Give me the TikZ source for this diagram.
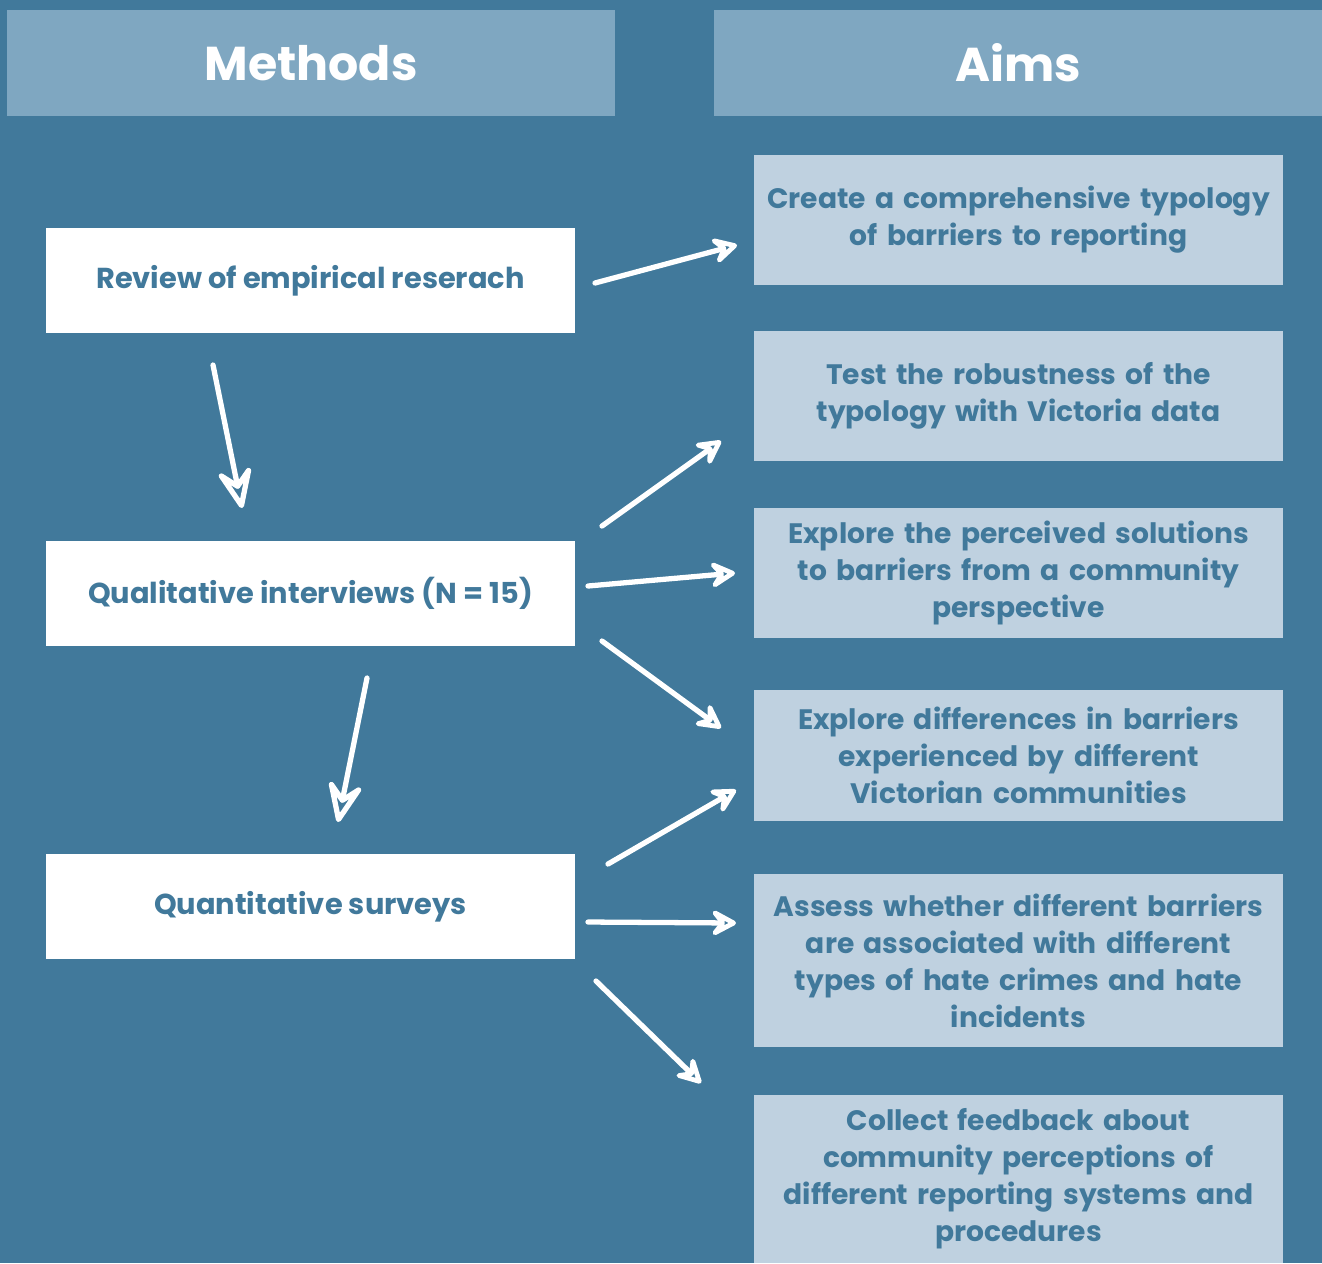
\documentclass[tikz,border=0pt]{standalone}
\usepackage{fontspec}
\setmainfont{Poppins}
\usetikzlibrary{arrows.meta}
\definecolor{bgblue}{RGB}{65,121,155}
\definecolor{headblue}{RGB}{127,167,193}
\definecolor{aimblue}{RGB}{191,209,224}
\tikzset{
  headbox/.style={fill=headblue, text=white, minimum width=6.08cm, minimum height=1.06cm,
    font=\fontsize{13.5}{16}\selectfont\bfseries},
  methodbox/.style={fill=white, text=bgblue, minimum width=5.29cm, minimum height=1.05cm,
    font=\fontsize{8.2}{10.5}\selectfont\bfseries},
  aimbox/.style={fill=aimblue, text=bgblue, inner xsep=0pt, minimum width=5.29cm, text width=5.29cm, align=center,
    font=\fontsize{8}{10.5}\selectfont\bfseries},
  sketch/.style={draw=white, line width=1.5pt, line cap=round,
    -{Stealth[open, round, length=0.32cm, width=0.34cm, inset=0.13cm]}},
  sketchdown/.style={sketch, -{Stealth[open, round, length=0.5cm, width=0.42cm, inset=0.2cm]}}
}
\begin{document}
\begin{tikzpicture}[x=0.01cm, y=-0.01cm]
\fill[bgblue] (0,0) rectangle (1322,1263);
\useasboundingbox (0,0) rectangle (1322,1263);

\node[headbox] (methods) at (311,63) {Methods};
\node[headbox] (aims) at (1018,63) {Aims};

\node[methodbox] (review) at (310.5,280.5) {Review of empirical reserach};
\node[methodbox] (interviews) at (310.5,593.5) {Qualitative interviews (N = 15)};
\node[methodbox] (surveys) at (310.5,906.5) {Quantitative surveys};

\node[aimbox, minimum height=1.30cm] (aim1) at (1018.5,220) {Create a comprehensive typology\\of barriers to reporting};
\node[aimbox, minimum height=1.30cm] (aim2) at (1018.5,396) {Test the robustness of the\\typology with Victoria data};
\node[aimbox, minimum height=1.30cm] (aim3) at (1018.5,573) {Explore the perceived solutions\\to barriers from a community\\perspective};
\node[aimbox, minimum height=1.31cm] (aim4) at (1018.5,755.5) {Explore differences in barriers\\experienced by different\\Victorian communities};
\node[aimbox, minimum height=1.73cm] (aim5) at (1018.5,960.5) {Assess whether different barriers\\are associated with different\\types of hate crimes and hate\\incidents};
\node[aimbox, minimum height=1.68cm] (aim6) at (1018.5,1179) {Collect feedback about\\community perceptions of\\different reporting systems and\\procedures};

% arrow ends
\coordinate (review-down) at (213,365);
\coordinate (interviews-top) at (242,508);
\coordinate (interviews-down) at (367,678);
\coordinate (surveys-top) at (338,822);
\coordinate (review-out) at (595,283);
\coordinate (aim1-in) at (737,245);
\coordinate (interviews-out1) at (602,526);
\coordinate (aim2-in) at (721,441);
\coordinate (interviews-out2) at (588,586);
\coordinate (aim3-in) at (735,573);
\coordinate (interviews-out3) at (602,641);
\coordinate (aim4-in) at (721,728);
\coordinate (surveys-out1) at (608,864);
\coordinate (aim4-in2) at (736,790);
\coordinate (surveys-out2) at (588,922);
\coordinate (aim5-in) at (736,923);
\coordinate (surveys-out3) at (596,981);
\coordinate (aim6-in) at (701,1083);

\path[sketchdown] (review-down) -- (interviews-top);
\path[sketchdown] (interviews-down) -- (surveys-top);
\path[sketch] (review-out) -- (aim1-in);
\path[sketch] (interviews-out1) -- (aim2-in);
\path[sketch] (interviews-out2) -- (aim3-in);
\path[sketch] (interviews-out3) -- (aim4-in);
\path[sketch] (surveys-out1) -- (aim4-in2);
\path[sketch] (surveys-out2) -- (aim5-in);
\path[sketch] (surveys-out3) -- (aim6-in);
\end{tikzpicture}
\end{document}
